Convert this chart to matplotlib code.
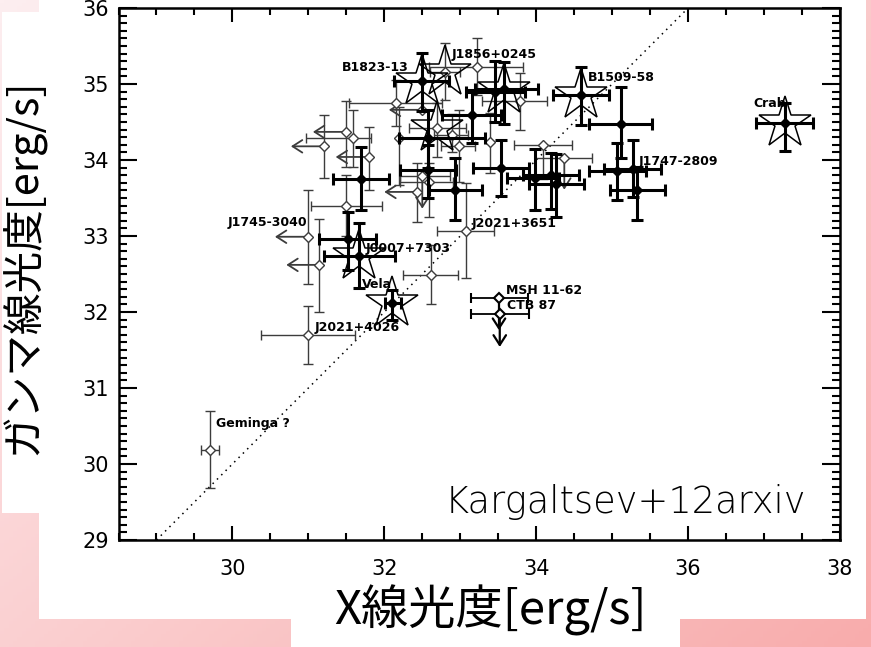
import numpy as np
import matplotlib
matplotlib.use("Agg")
import matplotlib.pyplot as plt
from matplotlib.patches import Rectangle
from matplotlib.ticker import MultipleLocator

# ---------------- data (log luminosities) ----------------
# thin (grey) points: x, y, x_lo, x_hi, y_lo, y_hi  (nan = no bar)
thin_x  = [29.70, 30.99, 30.99, 31.14, 31.49, 32.61, 33.08, 31.21, 31.49, 31.59, 31.80, 32.16, 32.49, 32.19, 32.43, 32.50, 32.59, 32.70, 32.89, 32.98, 33.39, 33.78, 34.09, 34.37, 33.22, 32.80]
thin_y  = [30.19, 31.70, 32.99, 32.62, 33.39, 32.49, 33.07, 34.18, 34.37, 34.29, 34.04, 34.75, 34.66, 34.29, 33.58, 33.79, 33.71, 34.42, 34.33, 34.19, 34.24, 34.78, 34.20, 34.02, 35.23, 35.16]
thin_xlo = [29.58, 30.38, np.nan, np.nan, 31.03, 32.25, 32.70, np.nan, np.nan, 30.97, np.nan, 31.54, np.nan, np.nan, np.nan, 32.21, 32.20, 32.33, 32.65, 32.75, np.nan, 33.29, 33.71, 33.99, 32.59, 32.60]
thin_xhi = [29.82, 31.61, np.nan, np.nan, 31.97, 32.97, 33.45, np.nan, np.nan, 31.82, np.nan, 32.76, np.nan, np.nan, np.nan, 32.87, 32.90, 33.07, 33.10, 33.20, np.nan, 34.14, 34.47, 34.73, 33.83, 33.00]
thin_ylo = [29.69, 31.32, 32.37, 32.00, 33.00, 32.11, 32.45, 33.76, 33.91, 33.91, 33.61, 34.45, np.nan, 33.67, 33.19, np.nan, 33.25, 34.04, 34.10, 33.71, 33.83, 34.39, 33.75, np.nan, 34.86, 34.79]
thin_yhi = [30.70, 32.08, 33.61, 33.23, 33.80, 32.88, 33.70, 34.59, 34.77, 34.66, 34.44, 35.05, np.nan, 34.70, 33.96, np.nan, 33.96, 34.75, 34.60, 34.66, 34.62, 35.14, 34.20, np.nan, 35.61, 35.54]

# thick (black) points
thick_x  = [32.49, 33.15, 33.46, 33.58, 34.59, 35.11, 37.27, 35.07, 35.27, 35.33, 33.54, 33.99, 34.19, 34.26, 32.93, 32.57, 32.57, 31.69, 31.52, 31.67, 32.10]
thick_y  = [35.04, 34.59, 34.90, 34.94, 34.85, 34.48, 34.49, 33.85, 33.88, 33.60, 33.90, 33.76, 33.80, 33.68, 33.61, 34.29, 33.87, 33.75, 32.96, 32.74, 32.12]
thick_xlo = [32.13, 32.76, 33.08, 33.20, 34.22, 34.70, 36.90, 34.70, 34.89, 34.97, 33.17, 33.61, 33.82, 33.91, 32.59, 32.19, 32.20, 31.32, 31.14, 31.21, 32.01]
thick_xhi = [32.85, 33.54, 33.85, 34.02, 34.96, 35.52, 37.64, 35.44, 35.64, 35.70, 33.91, 34.30, 34.56, 34.63, 33.29, 33.33, 32.95, 32.06, 31.89, 32.14, 32.22]
thick_ylo = [34.64, 34.22, 34.50, 34.48, 34.46, 34.02, 34.12, 33.47, 33.51, 33.21, 33.52, 33.34, 33.35, 33.25, 33.21, 33.90, 33.50, 33.34, 32.55, 32.32, 31.89]
thick_yhi = [35.41, 34.92, 35.30, 35.29, 35.23, 34.96, 34.75, 34.23, 34.26, 33.91, 34.26, 34.15, 34.09, 34.08, 34.02, 34.66, 34.20, 34.17, 33.32, 33.17, 32.29]

# medium points with down arrows (MSH 11-62, CTB 87)
mid_x   = [33.51, 33.52]
mid_y   = [32.19, 31.98]
mid_xlo = [33.14, 33.14]
mid_xhi = [33.89, 33.90]
mid_tip = [31.76, 31.54]

# stars (pulsar wind nebulae)
star_x = [32.49, 32.80, 32.70, 33.58, 34.59, 37.27, 31.67, 32.10]
star_y = [35.04, 35.16, 34.42, 34.92, 34.85, 34.49, 32.74, 32.12]

# upper-limit arrows (left: X-ray limits)
larr_x   = [30.99, 31.14, 31.21, 31.49, 31.80, 32.49, 32.43]
larr_y   = [32.99, 32.62, 34.18, 34.37, 34.04, 34.66, 33.58]
larr_tip = [30.56, 30.71, 30.77, 31.06, 31.36, 32.06, 32.00]
# down arrows (gamma limits)
darr_x   = [32.50, 34.37]
darr_y   = [33.79, 34.02]
darr_tip = [33.36, 33.61]

# labels
lab_text = ["B1823-13", "J1856+0245", "B1509-58", "Crab", "J1747-2809", "J1745-3040",
            "J0007+7303", "J2021+3651", "Vela", "MSH 11-62", "CTB 87", "J2021+4026", "Geminga ?"]
lab_x = [31.44, 32.88, 34.68, 36.86, 35.35, 29.94, 31.75, 33.15, 31.71, 33.60, 33.62, 31.08, 29.78]
lab_y = [35.22, 35.39, 35.09, 34.74, 33.98, 33.18, 32.84, 33.16, 32.36, 32.28, 32.08, 31.80, 30.53]

x_ticks = [30, 32, 34, 36, 38]
y_ticks = [29, 30, 31, 32, 33, 34, 35, 36]

CJK = ['Noto Sans CJK JP', 'DejaVu Sans']

# ---------------- figure & background ----------------
W, H = 871, 647
fig = plt.figure(figsize=(W / 100, H / 100), dpi=100)

bg = fig.add_axes([0, 0, 1, 1], zorder=-10)
gx, gy = np.meshgrid(np.linspace(0, 1, 200), np.linspace(0, 1, 200))
t = np.clip(0.55 * gx + 0.45 * gy, 0, 1)[..., None]
c0 = np.array([253, 238, 240]) / 255
c1 = np.array([248, 172, 172]) / 255
bg.imshow(c0 * (1 - t) + c1 * t, extent=[0, 1, 0, 1], aspect='auto', origin='upper')
bg.axis('off')


def white_box(x0, y0, x1, y1):
    fig.add_artist(Rectangle((x0 / W, 1 - y1 / H), (x1 - x0) / W, (y1 - y0) / H,
                             transform=fig.transFigure, facecolor='white',
                             edgecolor='none', zorder=-5))


white_box(39, 0, 866, 619)
white_box(2, 12, 40, 513)
white_box(291, 585, 680, 647)

# ---------------- main axes ----------------
ax = fig.add_axes([118.5 / W, 1 - 540 / H, (840 - 118.5) / W, (540 - 8) / H])
ax.set_facecolor('white')
ax.set_xlim(28.5, 38)
ax.set_ylim(29, 36)

# y = x line
ax.plot([29, 36], [29, 36], linestyle=(0, (1, 3)), color='black', lw=1.1, zorder=1)

grey = '#3c3c3c'
for i in range(len(thin_x)):
    xe = None
    ye = None
    if not np.isnan(thin_xlo[i]):
        xe = [[thin_x[i] - thin_xlo[i]], [thin_xhi[i] - thin_x[i]]]
    if not np.isnan(thin_ylo[i]):
        ye = [[thin_y[i] - thin_ylo[i]], [thin_yhi[i] - thin_y[i]]]
    ax.errorbar([thin_x[i]], [thin_y[i]], xerr=xe, yerr=ye, fmt='D', ms=5,
                mfc='white', mec=grey, mew=1.0, ecolor=grey, elinewidth=1.0,
                capsize=3.5, capthick=1.0, zorder=3)

for i in range(len(thick_x)):
    xe = [[thick_x[i] - thick_xlo[i]], [thick_xhi[i] - thick_x[i]]]
    ye = [[thick_y[i] - thick_ylo[i]], [thick_yhi[i] - thick_y[i]]]
    ax.errorbar([thick_x[i]], [thick_y[i]], xerr=xe, yerr=ye, fmt='D', ms=5.5,
                mfc='black', mec='black', ecolor='black', elinewidth=2.2,
                capsize=4, capthick=2.2, zorder=4)

for i in range(len(mid_x)):
    xe = [[mid_x[i] - mid_xlo[i]], [mid_xhi[i] - mid_x[i]]]
    ax.errorbar([mid_x[i]], [mid_y[i]], xerr=xe, fmt='D', ms=5.5,
                mfc='white', mec='black', mew=1.5, ecolor='black', elinewidth=1.3,
                capsize=3.5, capthick=1.3, zorder=4)
    ax.annotate('', xy=(mid_x[i], mid_tip[i]), xytext=(mid_x[i], mid_y[i]),
                arrowprops=dict(arrowstyle='->,head_length=0.7,head_width=0.45',
                                color='black', lw=1.6, shrinkA=0, shrinkB=0), zorder=4)

for i in range(len(larr_x)):
    ax.annotate('', xy=(larr_tip[i], larr_y[i]), xytext=(larr_x[i], larr_y[i]),
                arrowprops=dict(arrowstyle='->,head_length=0.7,head_width=0.45',
                                color=grey, lw=1.3, shrinkA=0, shrinkB=0), zorder=3)

for i in range(len(darr_x)):
    ax.annotate('', xy=(darr_x[i], darr_tip[i]), xytext=(darr_x[i], darr_y[i]),
                arrowprops=dict(arrowstyle='->,head_length=0.7,head_width=0.45',
                                color=grey, lw=1.3, shrinkA=0, shrinkB=0), zorder=3)

ax.plot(star_x, star_y, linestyle='none', marker='*', ms=39, mfc='none',
        mec='black', mew=1.1, zorder=5)

for s, lx, ly in zip(lab_text, lab_x, lab_y):
    ax.text(lx, ly, s, fontsize=9, ha='left', va='center', color='black',
            fontweight='semibold', zorder=6)

ax.text(32.79, 29.355, 'Kargaltsev+12arxiv', fontsize=26.5, ha='left', va='baseline',
        color='black', family='DejaVu Sans', fontweight='light', zorder=6)

# ticks and spines
ax.set_xticks(x_ticks)
ax.set_yticks(y_ticks)
ax.xaxis.set_minor_locator(MultipleLocator(0.5))
ax.yaxis.set_minor_locator(MultipleLocator(0.1))
ax.tick_params(axis='x', which='major', direction='in', length=10, width=1.5,
               top=True, pad=14, labelsize=15)
ax.tick_params(axis='x', which='minor', direction='in', length=5, width=1.5, top=True)
ax.tick_params(axis='y', which='major', direction='in', length=13, width=1.5,
               right=True, pad=7, labelsize=15)
ax.tick_params(axis='y', which='minor', direction='in', length=6, width=1.5, right=True)
for sp in ax.spines.values():
    sp.set_linewidth(1.8)

# axis labels (placed in figure coordinates on the white boxes)
fig.text(490 / W, 1 - 610 / H, 'X線光度[erg/s]', family=CJK, fontsize=34,
         ha='center', va='center')
fig.text(23 / W, 1 - 267 / H, 'ガンマ線光度[erg/s]', family=CJK, fontsize=30,
         ha='center', va='center', rotation=90)

fig.savefig('out.png', dpi=100)
